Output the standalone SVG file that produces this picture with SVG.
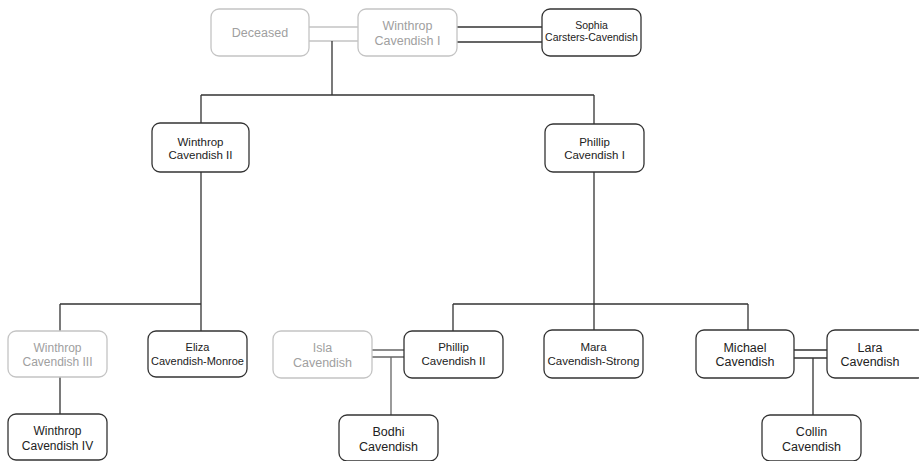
<svg xmlns="http://www.w3.org/2000/svg" width="919" height="461" viewBox="0 0 919 461">
<style>
.box{fill:#fff;stroke:#333;stroke-width:1.3}
.gbox{fill:#fff;stroke:#c4c4c4;stroke-width:1.3}
.t{font-family:"Liberation Sans",Arial,sans-serif;fill:#222;text-anchor:middle}
.gt{font-family:"Liberation Sans",Arial,sans-serif;fill:#a0a0a0;text-anchor:middle}
.ln{fill:none;stroke:#333;stroke-width:1.3}
.gln{fill:none;stroke:#c4c4c4;stroke-width:1.3}
.mln{fill:none;stroke:#666;stroke-width:1.3}
</style>
<rect width="919" height="461" fill="#fff"/>
<g id="connectors">
<path class="gln" d="M309 27H358M309 41H358"/>
<path class="ln" d="M457 27H542M457 42H542"/>
<path class="ln" d="M332 41V95M201 95H594M201 95V123M594 95V124"/>
<path class="ln" d="M201 172V331M60 304H201M60 304V331M60 377V414"/>
<path class="ln" d="M594 172V330M453 304H748M453 304V331M748 304V330"/>
<path class="mln" d="M372 350H404M372 357H404M391 357V415"/>
<path class="ln" d="M794 350H827M794 358H827M813 358V415"/>
</g>
<g id="deceased">
<rect class="gbox" x="211" y="9" width="98" height="47" rx="8"/>
<text class="gt" x="260" y="37" font-size="12.5">Deceased</text>
</g>
<g id="winthrop1">
<rect class="gbox" x="358" y="9" width="99" height="47" rx="8"/>
<text class="gt" font-size="12.5"><tspan x="407.5" y="30">Winthrop</tspan><tspan x="407.5" y="45">Cavendish I</tspan></text>
</g>
<g id="sophia">
<rect class="box" x="542" y="9" width="99" height="47" rx="8"/>
<text class="t" font-size="10.5"><tspan x="591.5" y="29">Sophia</tspan><tspan x="591.5" y="41">Carsters-Cavendish</tspan></text>
</g>
<g id="winthrop2">
<rect class="box" x="152" y="123" width="97" height="49" rx="8"/>
<text class="t" font-size="11.5"><tspan x="200.5" y="146">Winthrop</tspan><tspan x="200.5" y="159">Cavendish II</tspan></text>
</g>
<g id="phillip1">
<rect class="box" x="545" y="124" width="99" height="48" rx="8"/>
<text class="t" font-size="11.5"><tspan x="594.5" y="146">Phillip</tspan><tspan x="594.5" y="159">Cavendish I</tspan></text>
</g>
<g id="winthrop3">
<rect class="gbox" x="8" y="331" width="99" height="46" rx="8"/>
<text class="gt" font-size="12"><tspan x="57.5" y="352">Winthrop</tspan><tspan x="57.5" y="366">Cavendish III</tspan></text>
</g>
<g id="eliza">
<rect class="box" x="148" y="331" width="99" height="46" rx="8"/>
<text class="t" font-size="11"><tspan x="197.5" y="351">Eliza</tspan><tspan x="197.5" y="365">Cavendish-Monroe</tspan></text>
</g>
<g id="winthrop4">
<rect class="box" x="8" y="414" width="99" height="46" rx="8"/>
<text class="t" font-size="12"><tspan x="57.5" y="435">Winthrop</tspan><tspan x="57.5" y="450">Cavendish IV</tspan></text>
</g>
<g id="isla">
<rect class="gbox" x="273" y="331" width="99" height="47" rx="8"/>
<text class="gt" font-size="12.5"><tspan x="322.5" y="352">Isla</tspan><tspan x="322.5" y="367">Cavendish</tspan></text>
</g>
<g id="phillip2">
<rect class="box" x="404" y="331" width="99" height="47" rx="8"/>
<text class="t" font-size="11.5"><tspan x="453.5" y="351">Phillip</tspan><tspan x="453.5" y="365">Cavendish II</tspan></text>
</g>
<g id="bodhi">
<rect class="box" x="339" y="415" width="99" height="46" rx="8"/>
<text class="t" font-size="12.5"><tspan x="388.5" y="436">Bodhi</tspan><tspan x="388.5" y="451">Cavendish</tspan></text>
</g>
<g id="mara">
<rect class="box" x="544" y="330" width="99" height="48" rx="8"/>
<text class="t" font-size="11.5"><tspan x="593.5" y="351">Mara</tspan><tspan x="593.5" y="365">Cavendish-Strong</tspan></text>
</g>
<g id="michael">
<rect class="box" x="696" y="330" width="98" height="48" rx="8"/>
<text class="t" font-size="12.5"><tspan x="745" y="352">Michael</tspan><tspan x="745" y="366">Cavendish</tspan></text>
</g>
<g id="lara">
<rect class="box" x="827" y="330" width="99" height="48" rx="8"/>
<text class="t" font-size="12.5"><tspan x="870" y="352">Lara</tspan><tspan x="870" y="366">Cavendish</tspan></text>
</g>
<g id="collin">
<rect class="box" x="762" y="415" width="99" height="46" rx="8"/>
<text class="t" font-size="12.5"><tspan x="811.5" y="436">Collin</tspan><tspan x="811.5" y="451">Cavendish</tspan></text>
</g>
</svg>
